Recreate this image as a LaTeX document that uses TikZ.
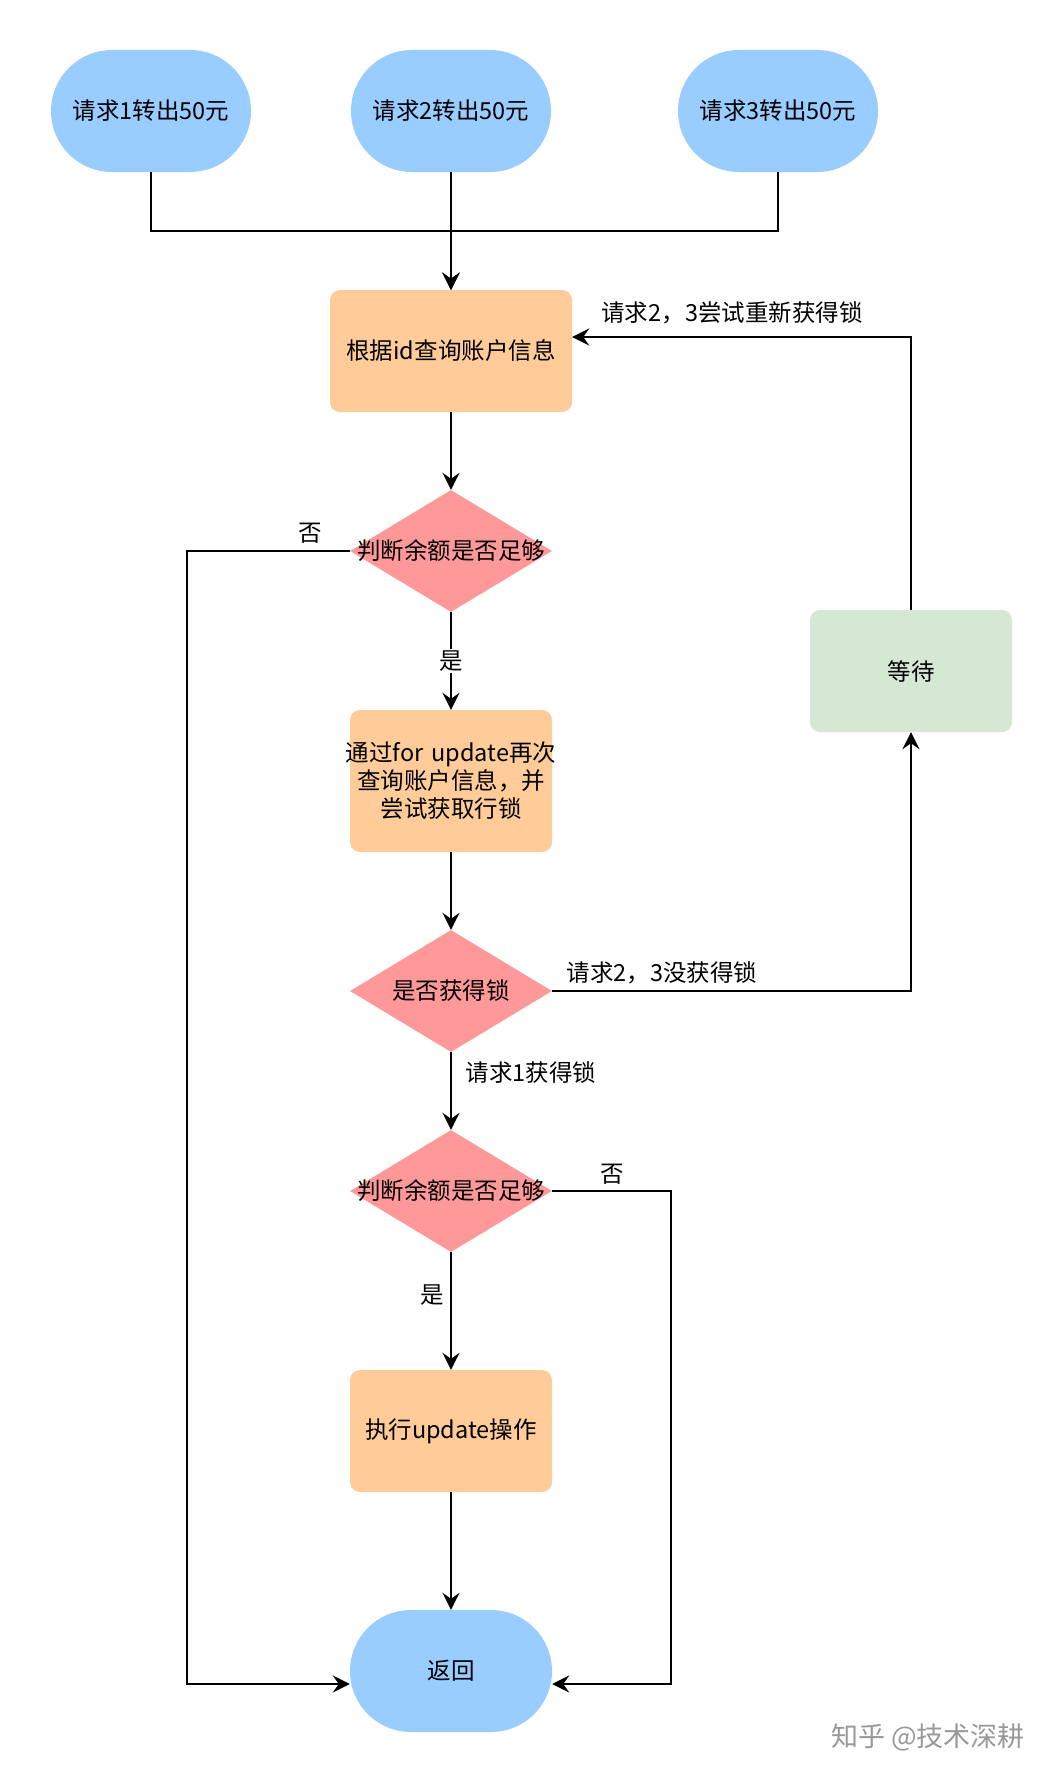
\documentclass[tikz,border=0pt]{standalone}
\usepackage{fontspec}
\setmainfont{Noto Sans CJK SC}
\usetikzlibrary{arrows.meta,shapes.geometric,shapes.misc}
\definecolor{cblue}{HTML}{99CCFF}
\definecolor{corange}{HTML}{FFCC99}
\definecolor{cred}{HTML}{FF9999}
\definecolor{cgreen}{HTML}{D5E8D4}
\begin{document}
\begin{tikzpicture}[x=1pt,y=-1pt,
  font=\fontsize{23.5}{28}\selectfont,
  term/.style={rounded rectangle, fill=cblue, minimum width=200pt, minimum height=122pt, inner sep=0pt},
  proc/.style={rectangle, rounded corners=10pt, fill=corange, minimum width=202pt, minimum height=122pt, inner sep=0pt, align=center},
  waitbox/.style={proc, fill=cgreen},
  dec/.style={diamond, fill=cred, minimum width=202pt, minimum height=122pt, inner sep=0pt},
  conn/.style={line width=2.4pt, draw=black},
  arr/.style={conn, -{Stealth[length=17pt,width=17pt,inset=6pt]}},
  elab/.style={inner sep=1pt, text=black},
  ylab/.style={elab, fill=white, inner sep=2pt}
]
\fill[white] (0,0) rectangle (1062,1782);
\useasboundingbox (0,0) rectangle (1062,1782);

% nodes
\node[term] (r1) at (151,111) {请求1转出50元};
\node[term] (r2) at (451,111) {请求2转出50元};
\node[term] (r3) at (778,111) {请求3转出50元};
\node[proc, minimum width=242pt] (b1) at (451,351) {根据id查询账户信息};
\node[dec] (d1) at (451,551) {\makebox[0pt]{判断余额是否足够}};
\node[proc, minimum height=142pt, text width=202pt] (b2) at (451,781) {\makebox[0pt]{通过for update再次}\\查询账户信息，并\\尝试获取行锁};
\node[dec] (d2) at (451,991) {\makebox[0pt]{是否获得锁}};
\node[dec] (d3) at (451,1191) {\makebox[0pt]{判断余额是否足够}};
\node[proc] (b3) at (451,1431) {执行update操作};
\node[term, minimum width=202pt] (ret) at (451,1671) {返回};
\node[waitbox] (wait) at (911,671) {等待};

% junction coordinates
\coordinate (j) at (451,231);
\coordinate (lw) at (187,551);
\coordinate (lb) at (187,1684);
\coordinate (rw) at (671,1191);
\coordinate (rb) at (671,1684);
\coordinate (w1) at (911,991);
\coordinate (w2) at (911,337);

% connectors
\draw[arr] (r1.south) |- (j) -- (b1.north);
\draw[arr] (r3.south) |- (j) -- (b1.north);
\draw[arr] (r2.south) -- (b1.north);
\draw[arr] (b1.south) -- (d1.north);
\draw[arr] (d1.south) -- node[ylab, pos=0.5] (lyes1) {是} (b2.north);
\draw[arr] (d1.west) -- (lw) -- (lb) -- (ret.west |- lb);
\draw[arr] (b2.south) -- (d2.north);
\draw[arr] (d2.east) -- (w1) -- (wait.south);
\draw[arr] (wait.north) -- (w2) -- (b1.east |- w2);
\draw[arr] (d2.south) -- (d3.north);
\draw[arr] (d3.south) -- (b3.north);
\draw[arr] (d3.east) -- (rw) -- (rb) -- (ret.east |- rb);
\draw[arr] (b3.south) -- (ret.north);

% edge labels
\node[elab] (lno1) at (310,533) {否};
\node[elab] (lno2) at (612,1174) {否};
\node[elab] (lyes2) at (432,1295) {是};
\node[elab] (lnolock) at (662,973) {请求2，3没获得锁};
\node[elab] (lretry) at (732,313) {请求2，3尝试重新获得锁};
\node[elab] (lgot) at (531,1073) {请求1获得锁};

% watermark
\node[text=black!40, font=\fontsize{27}{30}\selectfont] (wm) at (928,1737) {知乎 @技术深耕};
\end{tikzpicture}
\end{document}
